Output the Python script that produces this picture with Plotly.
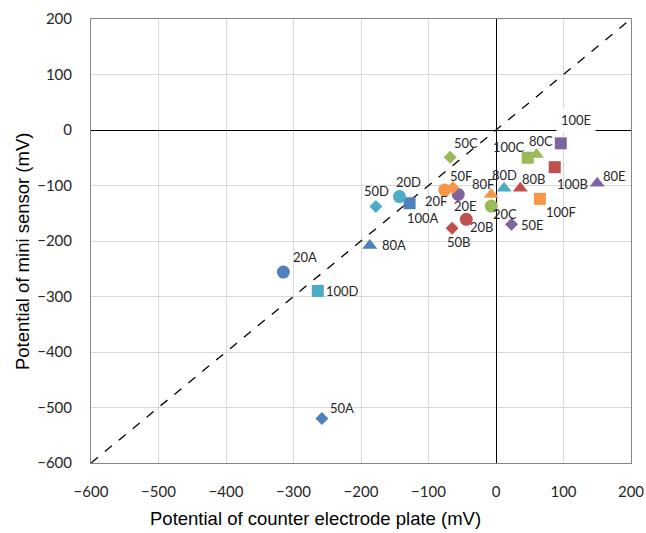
import plotly.graph_objects as go

# Data: (label, x = counter electrode plate potential, y = mini sensor potential)
labels = ["20A", "50A", "80A", "100A",
          "20B", "50B", "80B", "100B",
          "20C", "50C", "80C", "100C",
          "20D", "50D", "80D", "100D",
          "20E", "50E", "80E", "100E",
          "20F", "50F", "80F", "100F"]
x_vals = [-315, -258, -187, -128,
          -44, -65, 36, 87,
          -7, -68, 60, 47,
          -143, -178, 12, -264,
          -56, 23, 150, 96,
          -76, -64, -7, 65]
y_vals = [-256, -520, -208, -132,
          -161, -177, -105, -67,
          -137, -49, -44, -50,
          -120, -138, -105, -290,
          -116, -170, -96, -24,
          -108, -104, -116, -124]

x_title = "Potential of counter electrode plate (mV)"
y_title = "Potential of mini sensor (mV)"

group_colors = {"A": "#4F81BD", "B": "#C0504D", "C": "#9BBB59",
                "D": "#4BACC6", "E": "#8064A2", "F": "#F79646"}
num_symbols = {"20": "circle", "50": "diamond", "80": "triangle-up", "100": "square"}
num_sizes = {"20": 13, "50": 10, "80": 13, "100": 12}

# label offsets in pixels (dx, dy; dy positive = up)
label_offsets = {
    "20A": (22, 15), "50A": (20, 11), "80A": (24, 0), "100A": (13, -15),
    "20B": (16, -8), "50B": (7, -14), "80B": (14, 9), "100B": (18, -17),
    "20C": (14, -8), "50C": (16, 14), "80C": (4, 13), "100C": (-19, 11),
    "20D": (9, 15), "50D": (1, 16), "80D": (0, 13), "100D": (25, 0),
    "20E": (7, -12), "50E": (21, -1), "80E": (17, 7), "100E": (15, 23),
    "20F": (-9, -11), "50F": (8, 12), "80F": (-8, 10), "100F": (21, -13),
}

fig = go.Figure()

# 1:1 dashed reference line
fig.add_trace(go.Scatter(x=[-600, 200], y=[-600, 200], mode="lines",
                         line=dict(color="black", width=1.3, dash="dash"),
                         hoverinfo="skip", showlegend=False))

for lab, xv, yv in zip(labels, x_vals, y_vals):
    num, grp = lab[:-1], lab[-1]
    fig.add_trace(go.Scatter(
        x=[xv], y=[yv], mode="markers",
        marker=dict(symbol=num_symbols[num], size=num_sizes[num],
                    color=group_colors[grp], line=dict(width=0)),
        name=lab, showlegend=False))
    dx, dy = label_offsets[lab]
    fig.add_annotation(x=xv, y=yv, text=lab, showarrow=False,
                       xshift=dx, yshift=dy,
                       font=dict(family="Lato, Open Sans, sans-serif", size=13, color="#262626"),
                       bgcolor="white" if lab == "100E" else None,
                       borderpad=4 if lab == "100E" else 0)

tick_vals = [-600, -500, -400, -300, -200, -100, 0, 100, 200]
tick_font = dict(family="Lato, Open Sans, sans-serif", size=15, color="#262626")
title_font = dict(family="Liberation Sans, Arial, sans-serif", size=18.5, color="#000000")

# axis titles (Excel-style placement)
fig.add_annotation(xref="paper", yref="paper", x=0.415, y=-0.124, text=x_title,
                   showarrow=False, font=title_font, xanchor="center", yanchor="middle")
fig.add_annotation(xref="paper", yref="paper", x=-0.128, y=0.477, text=y_title,
                   showarrow=False, font=title_font, textangle=-90,
                   xanchor="center", yanchor="middle")

fig.update_layout(
    width=646, height=533,
    margin=dict(l=91, r=15, t=19, b=70),
    plot_bgcolor="white", paper_bgcolor="white",
    xaxis=dict(range=[-600, 200], tickvals=tick_vals, showgrid=True, gridcolor="#D9D9D9",
               zeroline=True, zerolinecolor="black", zerolinewidth=1,
               showline=True, linecolor="#868686", linewidth=1, mirror=True,
               ticks="outside", ticklen=15, tickcolor="rgba(0,0,0,0)",
               tickfont=tick_font, automargin=False),
    yaxis=dict(range=[-600, 200], tickvals=tick_vals, showgrid=True, gridcolor="#D9D9D9",
               zeroline=True, zerolinecolor="black", zerolinewidth=1,
               showline=True, linecolor="#868686", linewidth=1, mirror=True,
               ticks="outside", ticklen=15, tickcolor="rgba(0,0,0,0)",
               tickfont=tick_font, automargin=False),
)

fig.write_html("out.html")
